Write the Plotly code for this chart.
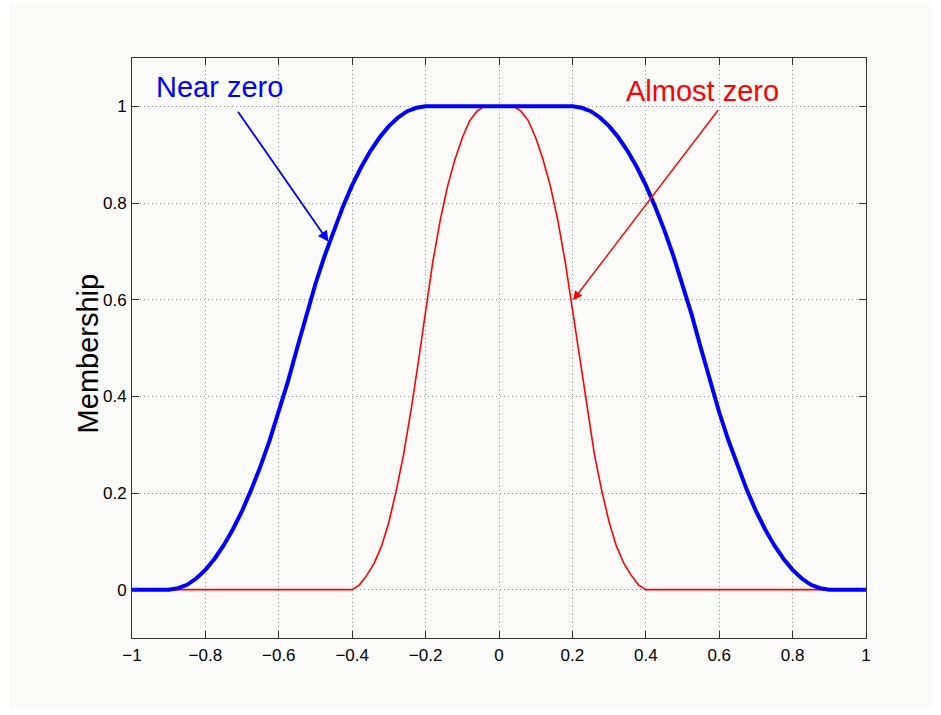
import plotly.graph_objects as go

# "Near zero" membership curve (broad, flat top between -0.2 and 0.2)
near_x = [-1.0, -0.9, -0.875, -0.85, -0.825, -0.8, -0.775, -0.75, -0.725, -0.7,
          -0.675, -0.65, -0.625, -0.6, -0.575, -0.55, -0.525, -0.5, -0.475, -0.45,
          -0.425, -0.4, -0.375, -0.35, -0.325, -0.3, -0.275, -0.25, -0.225, -0.2,
          0.2, 0.225, 0.25, 0.275, 0.3, 0.325, 0.35, 0.375, 0.4, 0.425,
          0.45, 0.475, 0.5, 0.525, 0.55, 0.575, 0.6, 0.625, 0.65, 0.675,
          0.7, 0.725, 0.75, 0.775, 0.8, 0.825, 0.85, 0.875, 0.9, 1.0]
near_y = [0.0, 0.0, 0.003, 0.010, 0.023, 0.041, 0.064, 0.092, 0.125, 0.163,
          0.207, 0.255, 0.309, 0.367, 0.431, 0.500, 0.569, 0.633, 0.691, 0.745,
          0.793, 0.837, 0.875, 0.908, 0.936, 0.959, 0.977, 0.990, 0.997, 1.0,
          1.0, 0.997, 0.990, 0.977, 0.959, 0.936, 0.908, 0.875, 0.837, 0.793,
          0.745, 0.691, 0.633, 0.569, 0.500, 0.431, 0.367, 0.309, 0.255, 0.207,
          0.163, 0.125, 0.092, 0.064, 0.041, 0.023, 0.010, 0.003, 0.0, 0.0]

# "Almost zero" membership curve (narrow, peaked around 0)
almost_x = [-1.0, -0.4, -0.38, -0.36, -0.34, -0.32, -0.3, -0.28, -0.26, -0.24,
            -0.22, -0.2, -0.18, -0.16, -0.14, -0.12, -0.1, -0.08, -0.06, -0.04,
            0.0, 0.04, 0.06, 0.08, 0.1, 0.12, 0.14, 0.16, 0.18, 0.2,
            0.22, 0.24, 0.26, 0.28, 0.3, 0.32, 0.34, 0.36, 0.38, 0.4, 1.0]
almost_y = [0.0, 0.0, 0.010, 0.030, 0.055, 0.090, 0.140, 0.205, 0.280, 0.370,
            0.470, 0.580, 0.680, 0.765, 0.835, 0.890, 0.935, 0.970, 0.990, 1.0,
            1.0, 1.0, 0.990, 0.970, 0.935, 0.890, 0.835, 0.765, 0.680, 0.580,
            0.470, 0.370, 0.280, 0.205, 0.140, 0.090, 0.055, 0.030, 0.010, 0.0, 0.0]

x_ticks = [-1, -0.8, -0.6, -0.4, -0.2, 0, 0.2, 0.4, 0.6, 0.8, 1]
x_tick_text = ["\u22121", "\u22120.8", "\u22120.6", "\u22120.4", "\u22120.2", "0",
               "0.2", "0.4", "0.6", "0.8", "1"]
y_ticks = [0, 0.2, 0.4, 0.6, 0.8, 1]
y_tick_text = ["0", "0.2", "0.4", "0.6", "0.8", "1"]

BLUE = "#0000ff"
RED = "#ff0000"
FONT = "Liberation Sans, Arial, Helvetica, sans-serif"

fig = go.Figure()
fig.add_trace(go.Scatter(x=almost_x, y=almost_y, mode="lines",
                         line=dict(color=RED, width=1.6), hoverinfo="skip"))
fig.add_trace(go.Scatter(x=near_x, y=near_y, mode="lines",
                         line=dict(color=BLUE, width=4), hoverinfo="skip"))

axis_common = dict(
    showline=True, linecolor="#333333", linewidth=1, mirror="ticks",
    ticks="inside", ticklen=7, tickcolor="#333333",
    showgrid=True, gridcolor="#9a9a9a", gridwidth=1, griddash="1px,3px",
    zeroline=False,
    tickfont=dict(family=FONT, size=17, color="black"),
)

fig.update_xaxes(range=[-1, 1], tickvals=x_ticks, ticktext=x_tick_text,
                 ticklabelstandoff=2, **axis_common)
fig.update_yaxes(range=[-0.1, 1.1], tickvals=y_ticks, ticktext=y_tick_text,
                 ticklabelstandoff=1, **axis_common)

annotations = [
    # labels
    dict(x=-0.762, y=1.039, xref="x", yref="y", text="Near zero", showarrow=False,
         font=dict(family=FONT, size=29, color=BLUE), xanchor="center", yanchor="middle"),
    dict(x=0.555, y=1.031, xref="x", yref="y", text="Almost zero", showarrow=False,
         font=dict(family=FONT, size=29, color=RED), xanchor="center", yanchor="middle"),
    # arrows pointing at the curves
    dict(x=-0.4645, y=0.7197, ax=-0.714, ay=0.992, xref="x", yref="y",
         axref="x", ayref="y", text="", showarrow=True, arrowhead=2,
         arrowsize=1.2, arrowwidth=1.8, arrowcolor=BLUE, standoff=0),
    dict(x=0.202, y=0.599, ax=0.600, ay=0.995, xref="x", yref="y",
         axref="x", ayref="y", text="", showarrow=True, arrowhead=2,
         arrowsize=1.3, arrowwidth=1.4, arrowcolor=RED, standoff=0),
    # y axis title
    dict(x=-0.0605, y=0.49, xref="paper", yref="paper", text="Membership",
         textangle=-90, showarrow=False, xanchor="center", yanchor="middle",
         font=dict(family=FONT, size=29, color="black")),
]

fig.update_layout(
    width=941, height=715,
    margin=dict(l=131.5, r=74.5, t=58, b=77),
    paper_bgcolor="white", plot_bgcolor="#fafbf8",
    showlegend=False,
    annotations=annotations,
    shapes=[dict(type="rect", xref="paper", yref="paper", layer="below",
                 x0=-0.1667, x1=1.089, y0=-0.12, y1=1.093,
                 fillcolor="#fafbf8", line=dict(width=0))],
)

fig.write_html("out.html")
